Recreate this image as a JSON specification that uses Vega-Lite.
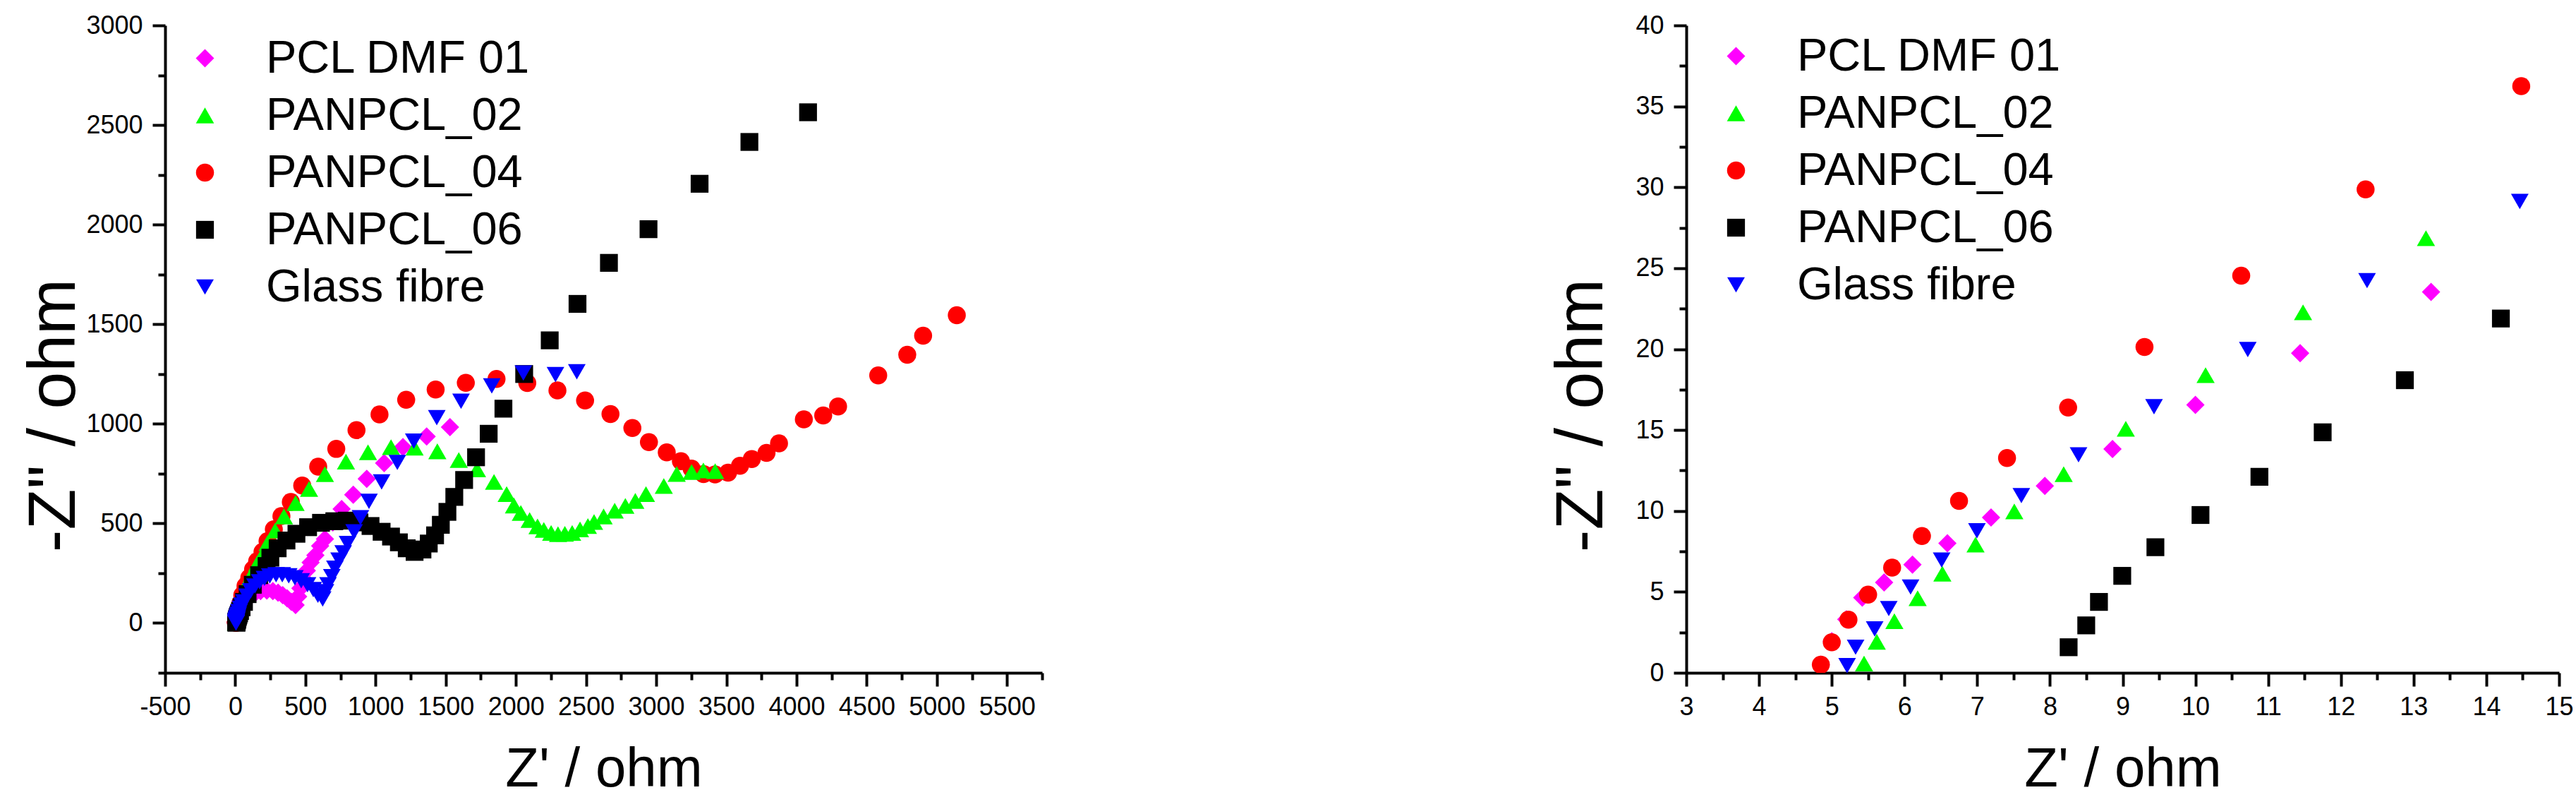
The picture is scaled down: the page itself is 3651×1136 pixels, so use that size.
{
"$schema": "https://vega.github.io/schema/vega-lite/v6.json",
"background": "white",
"autosize": {"type": "pad"},
"padding": {"left": 29, "top": 18, "right": 0, "bottom": 0},
"bounds": "flush",
"spacing": 913,
"datasets": {"eis": [
{"s":"PCL DMF 01","x":4.85,"y":0.5},{"s":"PCL DMF 01","x":5.0,"y":1.95},{"s":"PCL DMF 01","x":5.2,"y":3.3},{"s":"PCL DMF 01","x":5.42,"y":4.65},{"s":"PCL DMF 01","x":5.72,"y":5.58},{"s":"PCL DMF 01","x":6.11,"y":6.68},{"s":"PCL DMF 01","x":6.59,"y":8.0},{"s":"PCL DMF 01","x":7.19,"y":9.6},{"s":"PCL DMF 01","x":7.93,"y":11.55},{"s":"PCL DMF 01","x":8.86,"y":13.83},{"s":"PCL DMF 01","x":10.0,"y":16.55},{"s":"PCL DMF 01","x":11.44,"y":19.75},{"s":"PCL DMF 01","x":13.24,"y":23.53},{"s":"PCL DMF 01","x":16,"y":29},{"s":"PCL DMF 01","x":20,"y":36},{"s":"PCL DMF 01","x":26,"y":46},{"s":"PCL DMF 01","x":34,"y":60},{"s":"PCL DMF 01","x":45,"y":77},{"s":"PCL DMF 01","x":60,"y":96},{"s":"PCL DMF 01","x":80,"y":116},{"s":"PCL DMF 01","x":105,"y":134},{"s":"PCL DMF 01","x":140,"y":150},{"s":"PCL DMF 01","x":180,"y":160},{"s":"PCL DMF 01","x":225,"y":163},{"s":"PCL DMF 01","x":268,"y":160},{"s":"PCL DMF 01","x":305,"y":152},{"s":"PCL DMF 01","x":338,"y":140},{"s":"PCL DMF 01","x":370,"y":124},{"s":"PCL DMF 01","x":400,"y":106},{"s":"PCL DMF 01","x":430,"y":90},{"s":"PCL DMF 01","x":448,"y":133},{"s":"PCL DMF 01","x":464,"y":174},{"s":"PCL DMF 01","x":486,"y":222},{"s":"PCL DMF 01","x":510,"y":263},{"s":"PCL DMF 01","x":537,"y":304},{"s":"PCL DMF 01","x":571,"y":340},{"s":"PCL DMF 01","x":605,"y":387},{"s":"PCL DMF 01","x":639,"y":422},{"s":"PCL DMF 01","x":695,"y":505},{"s":"PCL DMF 01","x":758,"y":572},{"s":"PCL DMF 01","x":841,"y":644},{"s":"PCL DMF 01","x":937,"y":724},{"s":"PCL DMF 01","x":1061,"y":803},{"s":"PCL DMF 01","x":1195,"y":883},{"s":"PCL DMF 01","x":1364,"y":936},{"s":"PCL DMF 01","x":1530,"y":983},
{"s":"PANPCL_04","x":4.85,"y":0.5},{"s":"PANPCL_04","x":5.0,"y":1.89},{"s":"PANPCL_04","x":5.23,"y":3.28},{"s":"PANPCL_04","x":5.5,"y":4.83},{"s":"PANPCL_04","x":5.83,"y":6.5},{"s":"PANPCL_04","x":6.24,"y":8.45},{"s":"PANPCL_04","x":6.75,"y":10.62},{"s":"PANPCL_04","x":7.41,"y":13.27},{"s":"PANPCL_04","x":8.25,"y":16.39},{"s":"PANPCL_04","x":9.3,"y":20.13},{"s":"PANPCL_04","x":10.63,"y":24.54},{"s":"PANPCL_04","x":12.34,"y":29.87},{"s":"PANPCL_04","x":14.48,"y":36.25},{"s":"PANPCL_04","x":18,"y":46},{"s":"PANPCL_04","x":23,"y":60},{"s":"PANPCL_04","x":29,"y":77},{"s":"PANPCL_04","x":37,"y":100},{"s":"PANPCL_04","x":50,"y":140},{"s":"PANPCL_04","x":73,"y":186},{"s":"PANPCL_04","x":100,"y":227},{"s":"PANPCL_04","x":127,"y":269},{"s":"PANPCL_04","x":156,"y":310},{"s":"PANPCL_04","x":194,"y":357},{"s":"PANPCL_04","x":230,"y":411},{"s":"PANPCL_04","x":275,"y":470},{"s":"PANPCL_04","x":329,"y":537},{"s":"PANPCL_04","x":396,"y":608},{"s":"PANPCL_04","x":477,"y":690},{"s":"PANPCL_04","x":591,"y":785},{"s":"PANPCL_04","x":720,"y":874},{"s":"PANPCL_04","x":864,"y":968},{"s":"PANPCL_04","x":1028,"y":1047},{"s":"PANPCL_04","x":1218,"y":1121},{"s":"PANPCL_04","x":1428,"y":1172},{"s":"PANPCL_04","x":1643,"y":1206},{"s":"PANPCL_04","x":1862,"y":1225},{"s":"PANPCL_04","x":2081,"y":1205},{"s":"PANPCL_04","x":2296,"y":1168},{"s":"PANPCL_04","x":2493,"y":1117},{"s":"PANPCL_04","x":2674,"y":1049},{"s":"PANPCL_04","x":2830,"y":979},{"s":"PANPCL_04","x":2948,"y":908},{"s":"PANPCL_04","x":3075,"y":857},{"s":"PANPCL_04","x":3176,"y":812},{"s":"PANPCL_04","x":3252,"y":775},{"s":"PANPCL_04","x":3337,"y":748},{"s":"PANPCL_04","x":3420,"y":746},{"s":"PANPCL_04","x":3512,"y":755},{"s":"PANPCL_04","x":3597,"y":789},{"s":"PANPCL_04","x":3681,"y":823},{"s":"PANPCL_04","x":3786,"y":854},{"s":"PANPCL_04","x":3875,"y":902},{"s":"PANPCL_04","x":4052,"y":1022},{"s":"PANPCL_04","x":4190,"y":1042},{"s":"PANPCL_04","x":4296,"y":1087},{"s":"PANPCL_04","x":4582,"y":1243},{"s":"PANPCL_04","x":4789,"y":1347},{"s":"PANPCL_04","x":4902,"y":1442},{"s":"PANPCL_04","x":5142,"y":1545},
{"s":"PANPCL_02","x":5.444,"y":0.57},{"s":"PANPCL_02","x":5.619,"y":1.92},{"s":"PANPCL_02","x":5.861,"y":3.19},{"s":"PANPCL_02","x":6.181,"y":4.61},{"s":"PANPCL_02","x":6.521,"y":6.12},{"s":"PANPCL_02","x":6.977,"y":7.92},{"s":"PANPCL_02","x":7.51,"y":9.97},{"s":"PANPCL_02","x":8.189,"y":12.27},{"s":"PANPCL_02","x":9.043,"y":15.08},{"s":"PANPCL_02","x":10.14,"y":18.39},{"s":"PANPCL_02","x":11.48,"y":22.27},{"s":"PANPCL_02","x":13.17,"y":26.85},{"s":"PANPCL_02","x":15.5,"y":33},{"s":"PANPCL_02","x":18.5,"y":40},{"s":"PANPCL_02","x":22.5,"y":50},{"s":"PANPCL_02","x":27.5,"y":63},{"s":"PANPCL_02","x":33,"y":80},{"s":"PANPCL_02","x":42,"y":103},{"s":"PANPCL_02","x":62,"y":151},{"s":"PANPCL_02","x":88,"y":204},{"s":"PANPCL_02","x":122,"y":251},{"s":"PANPCL_02","x":156,"y":298},{"s":"PANPCL_02","x":196,"y":346},{"s":"PANPCL_02","x":230,"y":401},{"s":"PANPCL_02","x":284,"y":464},{"s":"PANPCL_02","x":347,"y":535},{"s":"PANPCL_02","x":430,"y":602},{"s":"PANPCL_02","x":526,"y":673},{"s":"PANPCL_02","x":639,"y":747},{"s":"PANPCL_02","x":789,"y":810},{"s":"PANPCL_02","x":946,"y":857},{"s":"PANPCL_02","x":1110,"y":883},{"s":"PANPCL_02","x":1278,"y":880},{"s":"PANPCL_02","x":1440,"y":862},{"s":"PANPCL_02","x":1593,"y":818},{"s":"PANPCL_02","x":1723,"y":771},{"s":"PANPCL_02","x":1844,"y":708},{"s":"PANPCL_02","x":1934,"y":647},{"s":"PANPCL_02","x":1986,"y":590},{"s":"PANPCL_02","x":2035,"y":552},{"s":"PANPCL_02","x":2098,"y":517},{"s":"PANPCL_02","x":2154,"y":485},{"s":"PANPCL_02","x":2199,"y":467},{"s":"PANPCL_02","x":2251,"y":452},{"s":"PANPCL_02","x":2300,"y":446},{"s":"PANPCL_02","x":2349,"y":448},{"s":"PANPCL_02","x":2401,"y":452},{"s":"PANPCL_02","x":2457,"y":470},{"s":"PANPCL_02","x":2513,"y":487},{"s":"PANPCL_02","x":2557,"y":507},{"s":"PANPCL_02","x":2625,"y":535},{"s":"PANPCL_02","x":2704,"y":564},{"s":"PANPCL_02","x":2780,"y":588},{"s":"PANPCL_02","x":2851,"y":613},{"s":"PANPCL_02","x":2927,"y":647},{"s":"PANPCL_02","x":3054,"y":688},{"s":"PANPCL_02","x":3146,"y":748},{"s":"PANPCL_02","x":3252,"y":758},{"s":"PANPCL_02","x":3336,"y":766},{"s":"PANPCL_02","x":3420,"y":762},
{"s":"PANPCL_06","x":8.257,"y":1.58},{"s":"PANPCL_06","x":8.499,"y":2.93},{"s":"PANPCL_06","x":8.674,"y":4.38},{"s":"PANPCL_06","x":8.994,"y":5.99},{"s":"PANPCL_06","x":9.45,"y":7.76},{"s":"PANPCL_06","x":10.07,"y":9.75},{"s":"PANPCL_06","x":10.88,"y":12.11},{"s":"PANPCL_06","x":11.75,"y":14.86},{"s":"PANPCL_06","x":12.88,"y":18.08},{"s":"PANPCL_06","x":14.2,"y":21.89},{"s":"PANPCL_06","x":16,"y":26.5},{"s":"PANPCL_06","x":18.5,"y":32},{"s":"PANPCL_06","x":22,"y":39},{"s":"PANPCL_06","x":27,"y":48},{"s":"PANPCL_06","x":34,"y":60},{"s":"PANPCL_06","x":45,"y":79},{"s":"PANPCL_06","x":62,"y":106},{"s":"PANPCL_06","x":88,"y":145},{"s":"PANPCL_06","x":125,"y":192},{"s":"PANPCL_06","x":170,"y":240},{"s":"PANPCL_06","x":223,"y":286},{"s":"PANPCL_06","x":250,"y":328},{"s":"PANPCL_06","x":302,"y":375},{"s":"PANPCL_06","x":365,"y":414},{"s":"PANPCL_06","x":436,"y":448},{"s":"PANPCL_06","x":519,"y":481},{"s":"PANPCL_06","x":611,"y":503},{"s":"PANPCL_06","x":706,"y":511},{"s":"PANPCL_06","x":795,"y":514},{"s":"PANPCL_06","x":885,"y":505},{"s":"PANPCL_06","x":964,"y":487},{"s":"PANPCL_06","x":1043,"y":458},{"s":"PANPCL_06","x":1110,"y":434},{"s":"PANPCL_06","x":1166,"y":405},{"s":"PANPCL_06","x":1222,"y":375},{"s":"PANPCL_06","x":1278,"y":357},{"s":"PANPCL_06","x":1334,"y":369},{"s":"PANPCL_06","x":1379,"y":399},{"s":"PANPCL_06","x":1424,"y":440},{"s":"PANPCL_06","x":1465,"y":493},{"s":"PANPCL_06","x":1512,"y":558},{"s":"PANPCL_06","x":1561,"y":633},{"s":"PANPCL_06","x":1631,"y":718},{"s":"PANPCL_06","x":1716,"y":832},{"s":"PANPCL_06","x":1806,"y":950},{"s":"PANPCL_06","x":1911,"y":1076},{"s":"PANPCL_06","x":2059,"y":1250},{"s":"PANPCL_06","x":2241,"y":1419},{"s":"PANPCL_06","x":2439,"y":1602},{"s":"PANPCL_06","x":2663,"y":1808},{"s":"PANPCL_06","x":2945,"y":1977},{"s":"PANPCL_06","x":3309,"y":2205},{"s":"PANPCL_06","x":3664,"y":2415},{"s":"PANPCL_06","x":4082,"y":2564},
{"s":"Glass fibre","x":5.211,"y":0.44},{"s":"Glass fibre","x":5.328,"y":1.58},{"s":"Glass fibre","x":5.59,"y":2.71},{"s":"Glass fibre","x":5.784,"y":3.97},{"s":"Glass fibre","x":6.084,"y":5.3},{"s":"Glass fibre","x":6.511,"y":6.97},{"s":"Glass fibre","x":6.996,"y":8.77},{"s":"Glass fibre","x":7.607,"y":10.95},{"s":"Glass fibre","x":8.393,"y":13.47},{"s":"Glass fibre","x":9.431,"y":16.44},{"s":"Glass fibre","x":10.72,"y":19.97},{"s":"Glass fibre","x":12.36,"y":24.23},{"s":"Glass fibre","x":14.46,"y":29.12},{"s":"Glass fibre","x":17.2,"y":35.5},{"s":"Glass fibre","x":21,"y":44},{"s":"Glass fibre","x":27,"y":57},{"s":"Glass fibre","x":37,"y":74},{"s":"Glass fibre","x":48,"y":90},{"s":"Glass fibre","x":62,"y":106},{"s":"Glass fibre","x":84,"y":135},{"s":"Glass fibre","x":111,"y":162},{"s":"Glass fibre","x":140,"y":186},{"s":"Glass fibre","x":174,"y":207},{"s":"Glass fibre","x":208,"y":224},{"s":"Glass fibre","x":246,"y":236},{"s":"Glass fibre","x":291,"y":242},{"s":"Glass fibre","x":335,"y":242},{"s":"Glass fibre","x":381,"y":237},{"s":"Glass fibre","x":425,"y":227},{"s":"Glass fibre","x":470,"y":212},{"s":"Glass fibre","x":515,"y":192},{"s":"Glass fibre","x":556,"y":168},{"s":"Glass fibre","x":589,"y":139},{"s":"Glass fibre","x":623,"y":121},{"s":"Glass fibre","x":643,"y":157},{"s":"Glass fibre","x":661,"y":192},{"s":"Glass fibre","x":688,"y":233},{"s":"Glass fibre","x":710,"y":275},{"s":"Glass fibre","x":740,"y":316},{"s":"Glass fibre","x":769,"y":352},{"s":"Glass fibre","x":800,"y":399},{"s":"Glass fibre","x":847,"y":458},{"s":"Glass fibre","x":892,"y":529},{"s":"Glass fibre","x":953,"y":611},{"s":"Glass fibre","x":1043,"y":708},{"s":"Glass fibre","x":1155,"y":806},{"s":"Glass fibre","x":1272,"y":913},{"s":"Glass fibre","x":1436,"y":1031},{"s":"Glass fibre","x":1609,"y":1113},{"s":"Glass fibre","x":1828,"y":1190},{"s":"Glass fibre","x":2053,"y":1255},{"s":"Glass fibre","x":2282,"y":1247},{"s":"Glass fibre","x":2434,"y":1261}
]},
"config": {
  "view": {"stroke": null},
  "font": "Liberation Sans",
  "axis": {"domainColor": "black", "domainWidth": 4, "tickColor": "black", "tickWidth": 4, "grid": false,
    "labelFont": "Liberation Sans", "labelFontSize": 36, "labelColor": "black", "labelOverlap": false, "labelFlush": false, "labelBound": false,
    "titleFont": "Liberation Sans", "titleFontWeight": "normal", "titleColor": "black"},
  "legend": {"orient": "none", "title": null, "padding": 0, "labelFont": "Liberation Sans", "labelFontSize": 65, "labelColor": "black", "labelLimit": 0, "labelOffset": 54, "rowPadding": 15, "symbolSize": 900, "symbolStrokeWidth": 0, "symbolOpacity": 1}
},
"resolve": {"scale": {"color": "independent", "shape": "independent", "size": "independent"}, "legend": {"color": "independent", "shape": "independent", "size": "independent"}},
"hconcat": [
 {
  "width": 1243, "height": 917,
  "data": {"name": "eis"},
  "mark": {"type": "point", "filled": true, "opacity": 1, "strokeWidth": 0},
  "encoding": {
    "x": {"field": "x", "type": "quantitative", "scale": {"domain": [-500, 5750], "nice": false, "zero": false},
      "axis": {"title": "Z' / ohm", "titleFontSize": 78, "values": [-500,-250,0,250,500,750,1000,1250,1500,1750,2000,2250,2500,2750,3000,3250,3500,3750,4000,4250,4500,4750,5000,5250,5500,5750],
        "labelExpr": "datum.value % 500 === 0 ? '' + datum.value : ''",
        "tickSize": {"condition": {"test": "datum.value % 500 === 0", "value": 19}, "value": 10},
        "labelPadding": 12, "titleBaseline": "alphabetic", "titleY": 160}},
    "y": {"field": "y", "type": "quantitative", "scale": {"domain": [-250, 3000], "nice": false, "zero": false},
      "axis": {"title": "-Z\" / ohm", "titleFontSize": 95, "values": [-250,0,250,500,750,1000,1250,1500,1750,2000,2250,2500,2750,3000],
        "labelExpr": "datum.value % 500 === 0 ? '' + datum.value : ''",
        "tickSize": {"condition": {"test": "datum.value % 500 === 0", "value": 18}, "value": 10},
        "labelPadding": 14, "titleBaseline": "alphabetic", "titleX": -129, "titleY": 552}},
    "color": {"field": "s", "type": "nominal", "scale": {"domain": ["PCL DMF 01","PANPCL_02","PANPCL_04","PANPCL_06","Glass fibre"], "range": ["#ff00ff","#00ff00","#ff0000","#000000","#0000ff"]},
      "legend": {"legendX": 24, "legendY": 14, "encode": {"symbols": {"update": {"size": {"condition": [{"test": "datum.value === 'PCL DMF 01'", "value": 1089}, {"test": "datum.value === 'PANPCL_04'", "value": 729}, {"test": "datum.value === 'PANPCL_06'", "value": 576}], "value": 1024}}}}}},
    "shape": {"field": "s", "type": "nominal", "scale": {"domain": ["PCL DMF 01","PANPCL_02","PANPCL_04","PANPCL_06","Glass fibre"], "range": ["diamond","triangle-up","circle","square","triangle-down"]},
      "legend": {"legendX": 24, "legendY": 14, "encode": {"symbols": {"update": {"size": {"condition": [{"test": "datum.value === 'PCL DMF 01'", "value": 1089}, {"test": "datum.value === 'PANPCL_04'", "value": 729}, {"test": "datum.value === 'PANPCL_06'", "value": 576}], "value": 1024}}}}}},
    "size": {"field": "s", "type": "nominal", "scale": {"domain": ["PCL DMF 01","PANPCL_02","PANPCL_04","PANPCL_06","Glass fibre"], "range": [676, 625, 441, 361, 625]}, "legend": null}
  }
 },
 {
  "width": 1237, "height": 917,
  "data": {"name": "eis"},
  "mark": {"type": "point", "filled": true, "opacity": 1, "strokeWidth": 0, "clip": true},
  "encoding": {
    "x": {"field": "x", "type": "quantitative", "scale": {"domain": [3, 15], "nice": false, "zero": false},
      "axis": {"title": "Z' / ohm", "titleFontSize": 78, "values": [3,3.5,4,4.5,5,5.5,6,6.5,7,7.5,8,8.5,9,9.5,10,10.5,11,11.5,12,12.5,13,13.5,14,14.5,15],
        "labelExpr": "datum.value % 1 === 0 ? '' + datum.value : ''",
        "tickSize": {"condition": {"test": "datum.value % 1 === 0", "value": 19}, "value": 10},
        "labelPadding": 12, "titleBaseline": "alphabetic", "titleY": 160}},
    "y": {"field": "y", "type": "quantitative", "scale": {"domain": [0, 40], "nice": false, "zero": false},
      "axis": {"title": "-Z\" / ohm", "titleFontSize": 95, "values": [0,2.5,5,7.5,10,12.5,15,17.5,20,22.5,25,27.5,30,32.5,35,37.5,40],
        "labelExpr": "datum.value % 5 === 0 ? '' + datum.value : ''",
        "tickSize": {"condition": {"test": "datum.value % 5 === 0", "value": 18}, "value": 10},
        "labelPadding": 14, "titleBaseline": "alphabetic", "titleX": -120, "titleY": 552}},
    "color": {"field": "s", "type": "nominal", "scale": {"domain": ["PCL DMF 01","PANPCL_02","PANPCL_04","PANPCL_06","Glass fibre"], "range": ["#ff00ff","#00ff00","#ff0000","#000000","#0000ff"]},
      "legend": {"legendX": 38, "legendY": 11, "encode": {"symbols": {"update": {"size": {"condition": [{"test": "datum.value === 'PCL DMF 01'", "value": 1089}, {"test": "datum.value === 'PANPCL_04'", "value": 729}, {"test": "datum.value === 'PANPCL_06'", "value": 576}], "value": 1024}}}}}},
    "shape": {"field": "s", "type": "nominal", "scale": {"domain": ["PCL DMF 01","PANPCL_02","PANPCL_04","PANPCL_06","Glass fibre"], "range": ["diamond","triangle-up","circle","square","triangle-down"]},
      "legend": {"legendX": 38, "legendY": 11, "encode": {"symbols": {"update": {"size": {"condition": [{"test": "datum.value === 'PCL DMF 01'", "value": 1089}, {"test": "datum.value === 'PANPCL_04'", "value": 729}, {"test": "datum.value === 'PANPCL_06'", "value": 576}], "value": 1024}}}}}},
    "size": {"field": "s", "type": "nominal", "scale": {"domain": ["PCL DMF 01","PANPCL_02","PANPCL_04","PANPCL_06","Glass fibre"], "range": [676, 625, 441, 361, 625]}, "legend": null}
  }
 }
]
}
